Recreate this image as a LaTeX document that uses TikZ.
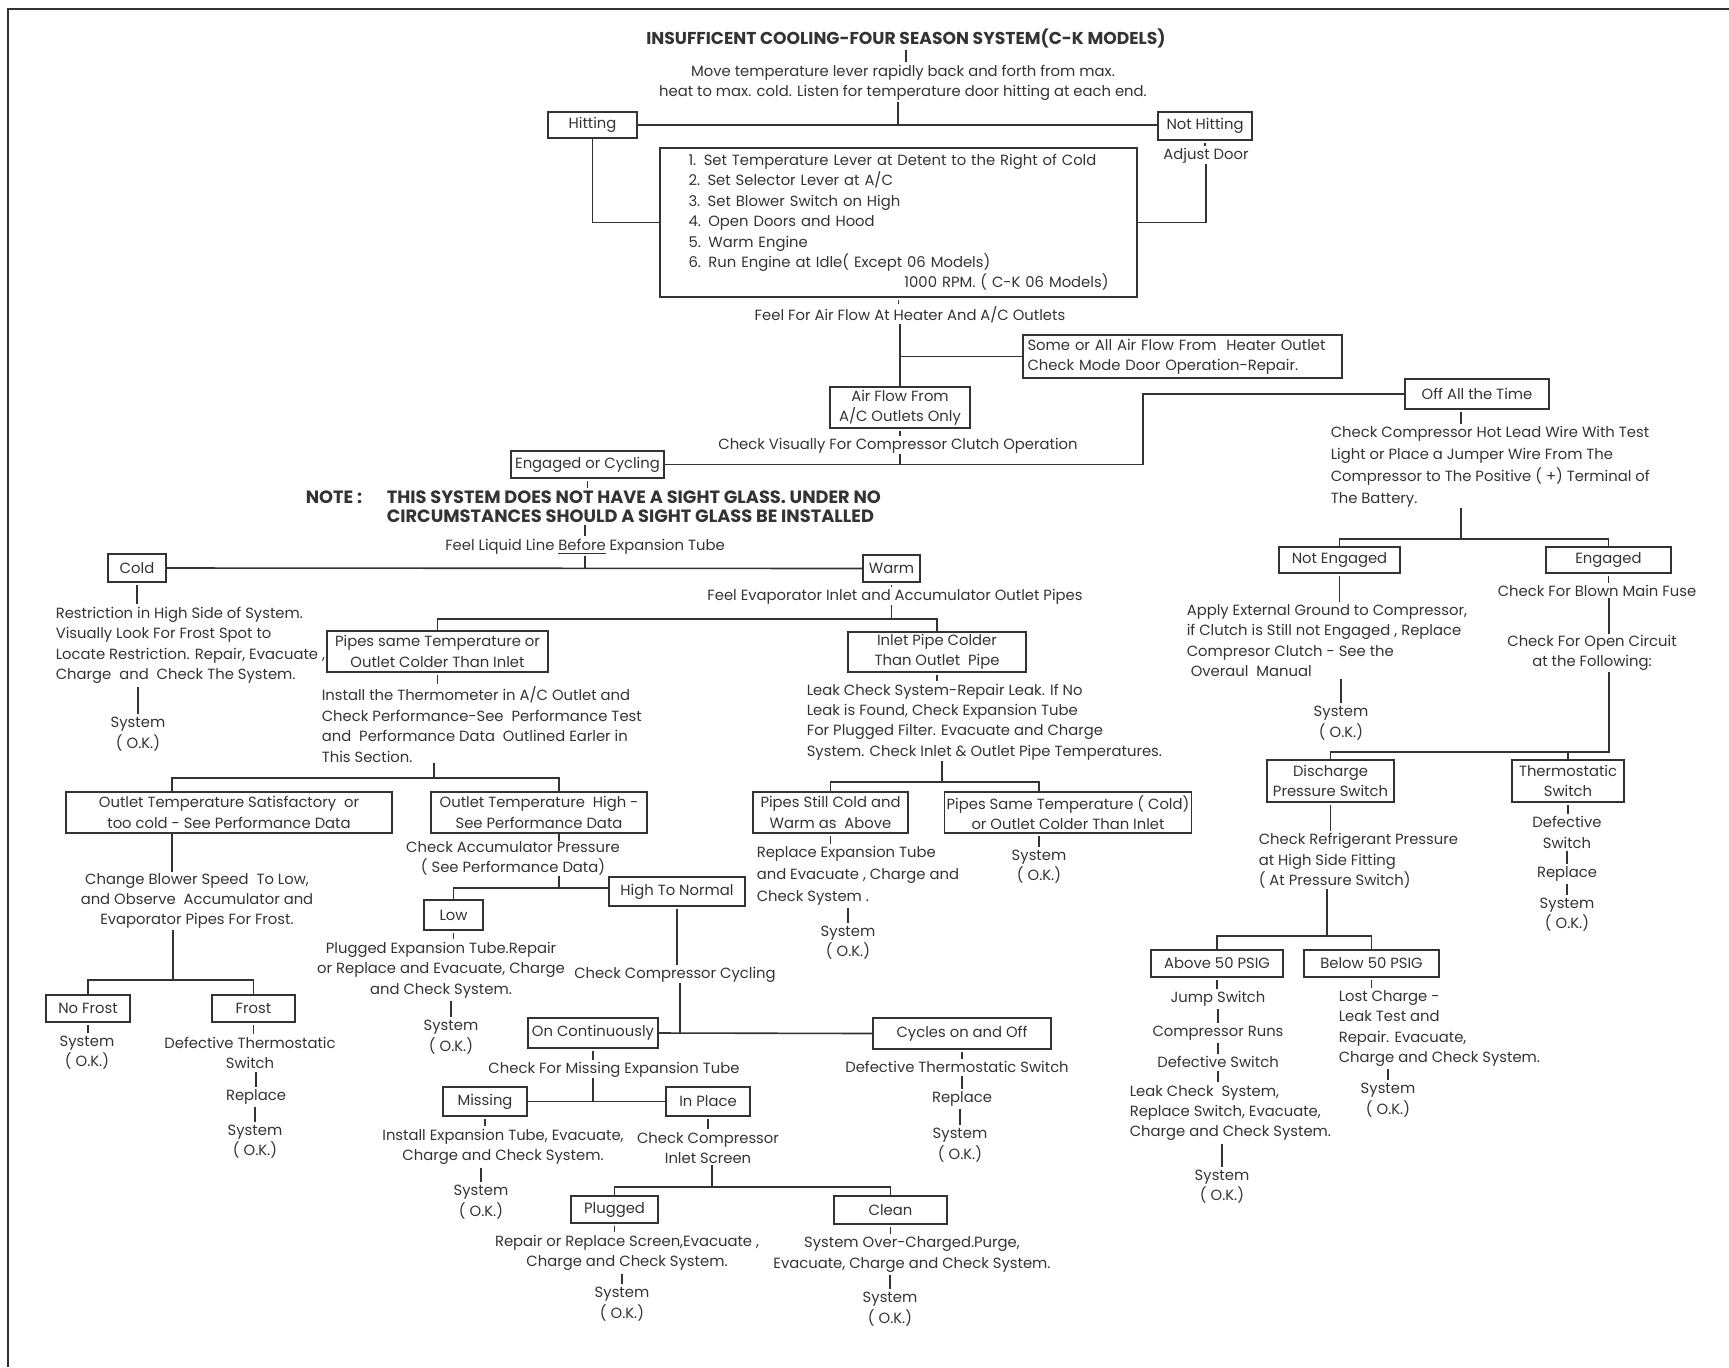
\documentclass[tikz,border=0pt]{standalone}
\usepackage{fontspec}
\setmainfont{Poppins}
\newcommand\fs{\fontsize{7.4}{10.2}\selectfont}
\newcommand\wfs{\fontsize{7.4}{11}\selectfont}
\newcommand\ttlfs{\fontsize{8.6}{10}\selectfont\bfseries}
\newcommand\notefs{\fontsize{8.9}{9.6}\selectfont\bfseries}
\definecolor{ink}{HTML}{333333}
\begin{document}
\begin{tikzpicture}[x=0.5pt, y=-0.5pt, color=ink, line width=0.8pt,
    box/.style={draw, inner sep=1pt, font=\fs},
    txt/.style={inner sep=0pt, font=\fs, align=center},
    ltxt/.style={inner sep=0pt, font=\fs, align=left, anchor=west},
    tick/.style={shorten <=1pt, shorten >=1pt}]
    \useasboundingbox (0,0) rectangle (1729,1367);
    \draw (8,1367) -- (8,9) -- (1729,9);

    % Kopf
    \node[txt, font=\ttlfs] (title) at (906,38) {INSUFFICENT COOLING-FOUR SEASON SYSTEM(C-K MODELS)};
    \node[txt] (move) at (903,83) {Move temperature lever rapidly back and forth from max.\\ heat to max. cold. Listen for temperature door hitting at each end.};
    \node[box, minimum width=44.5pt, minimum height=13pt] (hit) at (592.5,125) {Hitting};
    \node[box, minimum width=47pt, minimum height=14pt] (nothit) at (1205,126) {Not Hitting};
    \node[txt] (adjust) at (1206,156) {Adjust Door};
    \node[box, minimum width=238.5pt, minimum height=74.5pt, text width=210pt, align=left] (steps) at (898.5,222.5)
        {1. Set Temperature Lever at Detent to the Right of Cold\\ 2. Set Selector Lever at A/C\\ 3. Set Blower Switch on High\\ 4. Open Doors and Hood\\ 5. Warm Engine\\ 6. Run Engine at Idle( Except 06 Models)\\ \hfill 1000 RPM. ( C-K 06 Models)};
    \node[txt] (feelair) at (910,315) {Feel For Air Flow At Heater And A/C Outlets};
    \node[box, minimum width=159.5pt, minimum height=21.5pt, text width=155pt, align=left] (someall) at (1182.5,356.5)
        {Some or All Air Flow From\ \ Heater Outlet\\ Check Mode Door Operation-Repair.};
    \node[box, minimum width=70pt, minimum height=20.5pt, align=center] (airflow) at (900,407.5) {Air Flow From\\ A/C Outlets Only};
    \node[txt] (checkvis) at (898,446) {Check Visually For Compressor Clutch Operation};
    \node[box, minimum width=72pt, minimum height=15pt] (offall) at (1477,394) {Off All the Time};
    \node[ltxt, font=\wfs] (hotlead) at (1330,467) {Check Compressor Hot Lead Wire With Test\\ Light or Place a Jumper Wire From The\\ Compressor to The Positive ( +) Terminal of\\ The Battery.};
    \node[box, minimum width=76.5pt, minimum height=13.5pt] (engcyc) at (587.5,464.5) {Engaged or Cycling};
    \node[txt, font=\notefs] (note) at (334,497) {NOTE :};
    \node[ltxt, font=\notefs] (notetxt) at (386,506.5) {THIS SYSTEM DOES NOT HAVE A SIGHT GLASS. UNDER NO\\ CIRCUMSTANCES SHOULD A SIGHT GLASS BE INSTALLED};
    \node[txt] (feelliq) at (585,547) {Feel Liquid Line \underline{Before} Expansion Tube};

    % Zweig Cold / Warm
    \node[box, minimum width=29pt, minimum height=14pt] (cold) at (137,568) {Cold};
    \node[box, minimum width=28.5pt, minimum height=13.5pt] (warm) at (891.5,568.5) {Warm};
    \node[ltxt] (restrict) at (55,645.5) {Restriction in High Side of System.\\ Visually Look For Frost Spot to\\ Locate Restriction. Repair, Evacuate ,\\ Charge\ \ and\ \ Check The System.};
    \node[txt] (syscold) at (138,734) {System\\ ( O.K.)};
    \node[txt] (feelevap) at (895,597) {Feel Evaporator Inlet and Accumulator Outlet Pipes};
    \node[box, minimum width=110.5pt, minimum height=20.5pt, align=center] (pipessame) at (437.5,651.5) {Pipes same Temperature or\\ Outlet Colder Than Inlet};
    \node[box, minimum width=89pt, minimum height=20pt, align=center] (inletcold) at (937,652) {Inlet Pipe Colder\\ Than Outlet\ \ Pipe};
    \node[ltxt] (install) at (321,724.5) {Install the Thermometer in A/C Outlet and\\ Check Performance-See\ \ Performance Test\\ and\ \ Performance Data\ \ Outlined Earler in\\ This Section.};
    \node[ltxt] (leak) at (806,722) {Leak Check System-Repair Leak. If No\\ Leak is Found, Check Expansion Tube\\ For Plugged Filter. Evacuate and Charge\\ System. Check Inlet \& Outlet Pipe Temperatures.};
    \node[box, minimum width=163pt, minimum height=20.5pt, align=center] (outsat) at (229,812.5) {Outlet Temperature Satisfactory\ \ or\\ too cold - See Performance Data};
    \node[box, minimum width=108pt, minimum height=20.5pt, align=center] (outhigh) at (539,812.5) {Outlet Temperature\ \ High -\\ See Performance Data};
    \node[box, minimum width=77.5pt, minimum height=20.5pt, align=center] (stillcold) at (830.5,812.5) {Pipes Still Cold and\\ Warm as\ \ Above};
    \node[box, minimum width=123pt, minimum height=20.5pt, align=center] (pipesame2) at (1068,812.5) {Pipes Same Temperature ( Cold)\\ or Outlet Colder Than Inlet};
    \node[txt] (sysps) at (1039,866.5) {System\\ ( O.K.)};
    \node[ltxt, font=\wfs] (replexp) at (756,876) {Replace Expansion Tube\\ and Evacuate , Charge and\\ Check System .};
    \node[txt] (syssc) at (848,942.5) {System\\ ( O.K.)};

    % Frost
    \node[txt] (chblow) at (197,901) {Change Blower Speed\ \ To Low,\\ and Observe\ \ Accumulator and\\ Evaporator Pipes For Frost.};
    \node[box, minimum width=42pt, minimum height=13.5pt] (nofrost) at (88,1008.5) {No Frost};
    \node[box, minimum width=41.5pt, minimum height=13.5pt] (frost) at (253.5,1008.5) {Frost};
    \node[txt] (sysnf) at (87,1052.5) {System\\ ( O.K.)};
    \node[txt] (defth1) at (250,1053) {Defective Thermostatic\\ Switch};
    \node[txt] (replf) at (256,1097) {Replace};
    \node[txt] (sysfr) at (255,1141.5) {System\\ ( O.K.)};

    % Akkudruck
    \node[txt] (checkacc) at (513,858.5) {Check Accumulator Pressure\\ ( See Performance Data)};
    \node[box, minimum width=29.5pt, minimum height=15pt] (low) at (453.5,915) {Low};
    \node[box, minimum width=68pt, minimum height=14.5pt] (hinorm) at (677,891.5) {High To Normal};
    \node[txt] (plugexp) at (441,970) {Plugged Expansion Tube.Repair\\ or Replace and Evacuate, Charge\\ and Check System.};
    \node[txt] (syslow) at (451,1037) {System\\ ( O.K.)};
    \node[txt] (checkcyc) at (675,975) {Check Compressor Cycling};
    \node[box, minimum width=65pt, minimum height=15pt] (oncont) at (593,1033) {On Continuously};
    \node[box, minimum width=89pt, minimum height=15.5pt] (cycles) at (962,1033.5) {Cycles on and Off};
    \node[txt] (defth2) at (957,1067) {Defective Thermostatic Switch};
    \node[txt] (replc) at (962,1099) {Replace};
    \node[txt] (syscyc) at (960,1145) {System\\ ( O.K.)};
    \node[txt] (checkmiss) at (614,1070) {Check For Missing Expansion Tube};
    \node[box, minimum width=42pt, minimum height=14.5pt] (missing) at (485,1101.5) {Missing};
    \node[box, minimum width=42pt, minimum height=14.5pt] (inplace) at (708,1101.5) {In Place};
    \node[txt] (instexp) at (503,1147) {Install Expansion Tube, Evacuate,\\ Charge and Check System.};
    \node[txt] (sysmiss) at (481,1202) {System\\ ( O.K.)};
    \node[txt] (checkinl) at (708,1148) {Check Compressor\\ Inlet Screen};
    \node[box, minimum width=43.5pt, minimum height=13.5pt] (plugged) at (614.5,1209.5) {Plugged};
    \node[box, minimum width=56.5pt, minimum height=14pt] (clean) at (890.5,1210) {Clean};
    \node[txt] (repscr) at (627,1253) {Repair or Replace Screen,Evacuate ,\\ Charge and Check System.};
    \node[txt] (sysplug) at (622,1304) {System\\ ( O.K.)};
    \node[txt] (overch) at (912,1254.5) {System Over-Charged.Purge,\\ Evacuate, Charge and Check System.};
    \node[txt] (sysclean) at (890,1309) {System\\ ( O.K.)};

    % Kupplung aus
    \node[box, minimum width=60.5pt, minimum height=13pt] (noteng) at (1339.5,560) {Not Engaged};
    \node[box, minimum width=62.5pt, minimum height=13pt] (eng) at (1608.5,560) {Engaged};
    \node[ltxt] (apply) at (1186,640.5) {Apply External Ground to Compressor,\\ if Clutch is Still not Engaged , Replace\\ Compresor Clutch - See the\\ \ Overaul\ \ Manual};
    \node[txt] (sysne) at (1341,723) {System\\ ( O.K.)};
    \node[txt] (blown) at (1597,591) {Check For Blown Main Fuse};
    \node[txt] (opencirc) at (1592,653) {Check For Open Circuit\\ at the Following:};
    \node[box, minimum width=63.5pt, minimum height=21pt, align=center] (disch) at (1330.5,781) {Discharge\\ Pressure Switch};
    \node[box, minimum width=56pt, minimum height=21pt, align=center] (thermo) at (1568,781) {Thermostatic\\ Switch};
    \node[txt] (defsw) at (1567,832.5) {Defective\\ Switch};
    \node[txt] (replt) at (1567,874) {Replace};
    \node[txt] (systh) at (1567,914.5) {System\\ ( O.K.)};
    \node[ltxt] (checkref) at (1258,861) {Check Refrigerant Pressure\\ at High Side Fitting\\ ( At Pressure Switch)};
    \node[box, minimum width=66pt, minimum height=13.5pt] (above) at (1217,963.5) {Above 50 PSIG};
    \node[box, minimum width=67.5pt, minimum height=13.5pt] (below) at (1371.5,963.5) {Below 50 PSIG};
    \node[txt] (jump) at (1218,999) {Jump Switch};
    \node[txt] (comprun) at (1218,1033) {Compressor Runs};
    \node[txt] (defsw3) at (1218,1062) {Defective Switch};
    \node[ltxt] (leakchk) at (1129,1113) {Leak Check\ \ System,\\ Replace Switch, Evacuate,\\ Charge and Check System.};
    \node[txt] (sysab) at (1222,1186.5) {System\\ ( O.K.)};
    \node[ltxt] (lost) at (1338,1028.5) {Lost Charge -\\ Leak Test and\\ Repair. Evacuate,\\ Charge and Check System.};
    \node[txt] (sysbe) at (1388,1100) {System\\ ( O.K.)};

    % Knoten der Verzweigungen
    \coordinate (topj) at (898,125);
    \coordinate (offj) at (1143,430);
    \coordinate (evj) at (891.5,619);
    \coordinate (insj) at (434,778);
    \coordinate (satj) at (172,778);
    \coordinate (highj) at (559,778);
    \coordinate (frj) at (173,980);
    \coordinate (accj) at (559,888);
    \coordinate (cycj) at (680,1033);
    \coordinate (scrj) at (712,1187);
    \coordinate (lkj) at (942,782);
    \coordinate (psj) at (1039,782);
    \coordinate (hlj) at (1461,539);
    \coordinate (ocj) at (1609,752);
    \coordinate (refj) at (1327,936);

    % Verbindungen
    \draw (topj |- move.south) -- (topj);
    \draw (hit.east) -- (hit.east -| nothit.west);
    \draw (hit.south) |- (steps.west);
    \draw (adjust.south) |- (steps.east);
    \draw (airflow.north |- feelair.south) -- (airflow.north);
    \draw (airflow.north |- someall.west) -- (someall.west);
    \draw (airflow.south |- checkvis.south) -- (airflow.south |- engcyc.east);
    \draw (engcyc.east) -| (offj) |- (offall.west);
    \draw (feelliq.south) -- (feelliq.south |- cold.east);
    \draw (cold.east) -- (warm.west);
    \draw (evj |- feelevap.south) -- (evj);
    \draw (pipessame.north) |- (evj) -| (inletcold.north);
    \draw (insj |- install.south) -- (insj);
    \draw (satj |- outsat.north) -- (satj) -- (highj) -- (highj |- outhigh.north);
    \draw (satj |- outsat.south) -- (satj |- chblow.north);
    \draw (frj |- chblow.south) -- (frj);
    \draw (nofrost.north) |- (frj) -| (frost.north);
    \draw (highj |- outhigh.south) -- (highj |- checkacc.north);
    \draw (accj |- checkacc.south) -- (accj);
    \draw (low.north) |- (accj) -- (accj -| hinorm.west);
    \draw (cycj |- checkcyc.south) -- (cycj);
    \draw (oncont.east) -- (cycles.west);
    \draw (oncont.south |- checkmiss.south) -- (oncont.south |- missing.east);
    \draw (missing.east) -- (inplace.west);
    \draw (scrj |- checkinl.south) -- (scrj);
    \draw (plugged.north) |- (scrj) -| (clean.north);
    \draw (lkj |- leak.south) -- (lkj);
    \draw (stillcold.north) |- (psj) -- (psj |- pipesame2.north);
    \draw[tick] (psj |- pipesame2.south) -- (sysps.north);
    \draw[tick] (hlj |- offall.south) -- (hlj |- hotlead.north);
    \draw (hlj |- hotlead.south) -- (hlj);
    \draw (noteng.north) |- (hlj) -| (eng.north);
    \draw (ocj |- blown.south) -- (ocj |- opencirc.north);
    \draw (ocj |- opencirc.south) -- (ocj) -| (disch.north);
    \draw (thermo.north) -- (thermo.north |- ocj);
    \draw (refj |- checkref.south) -- (refj);
    \draw (above.north) |- (refj) -| (below.north);

    % kurze Striche unter dem oberen Knoten
    \foreach \a/\b in {title/move, nothit/adjust, steps/feelair, airflow/checkvis, engcyc/notetxt,
        cold/restrict, warm/feelevap, pipessame/install, inletcold/leak, stillcold/replexp,
        hinorm/checkcyc, oncont/checkmiss, noteng/apply, eng/blown, disch/checkref,
        missing/instexp, inplace/checkinl, cycles/defth2, frost/defth1, nofrost/sysnf,
        thermo/defsw, above/jump, below/lost, low/plugexp, plugged/repscr, clean/overch, defsw3/leakchk}
        \draw[tick] (\a.south) -- (\a.south |- \b.north);
    % kurze Striche ueber dem unteren Knoten
    \foreach \a/\b in {restrict/syscold, notetxt/feelliq, replexp/syssc, apply/sysne, defth1/replf,
        replf/sysfr, plugexp/syslow, defth2/replc, replc/syscyc, instexp/sysmiss, repscr/sysplug,
        overch/sysclean, defsw/replt, replt/systh, jump/comprun, comprun/defsw3, leakchk/sysab, lost/sysbe}
        \draw[tick] (\b.north) -- (\b.north |- \a.south);
\end{tikzpicture}
\end{document}
